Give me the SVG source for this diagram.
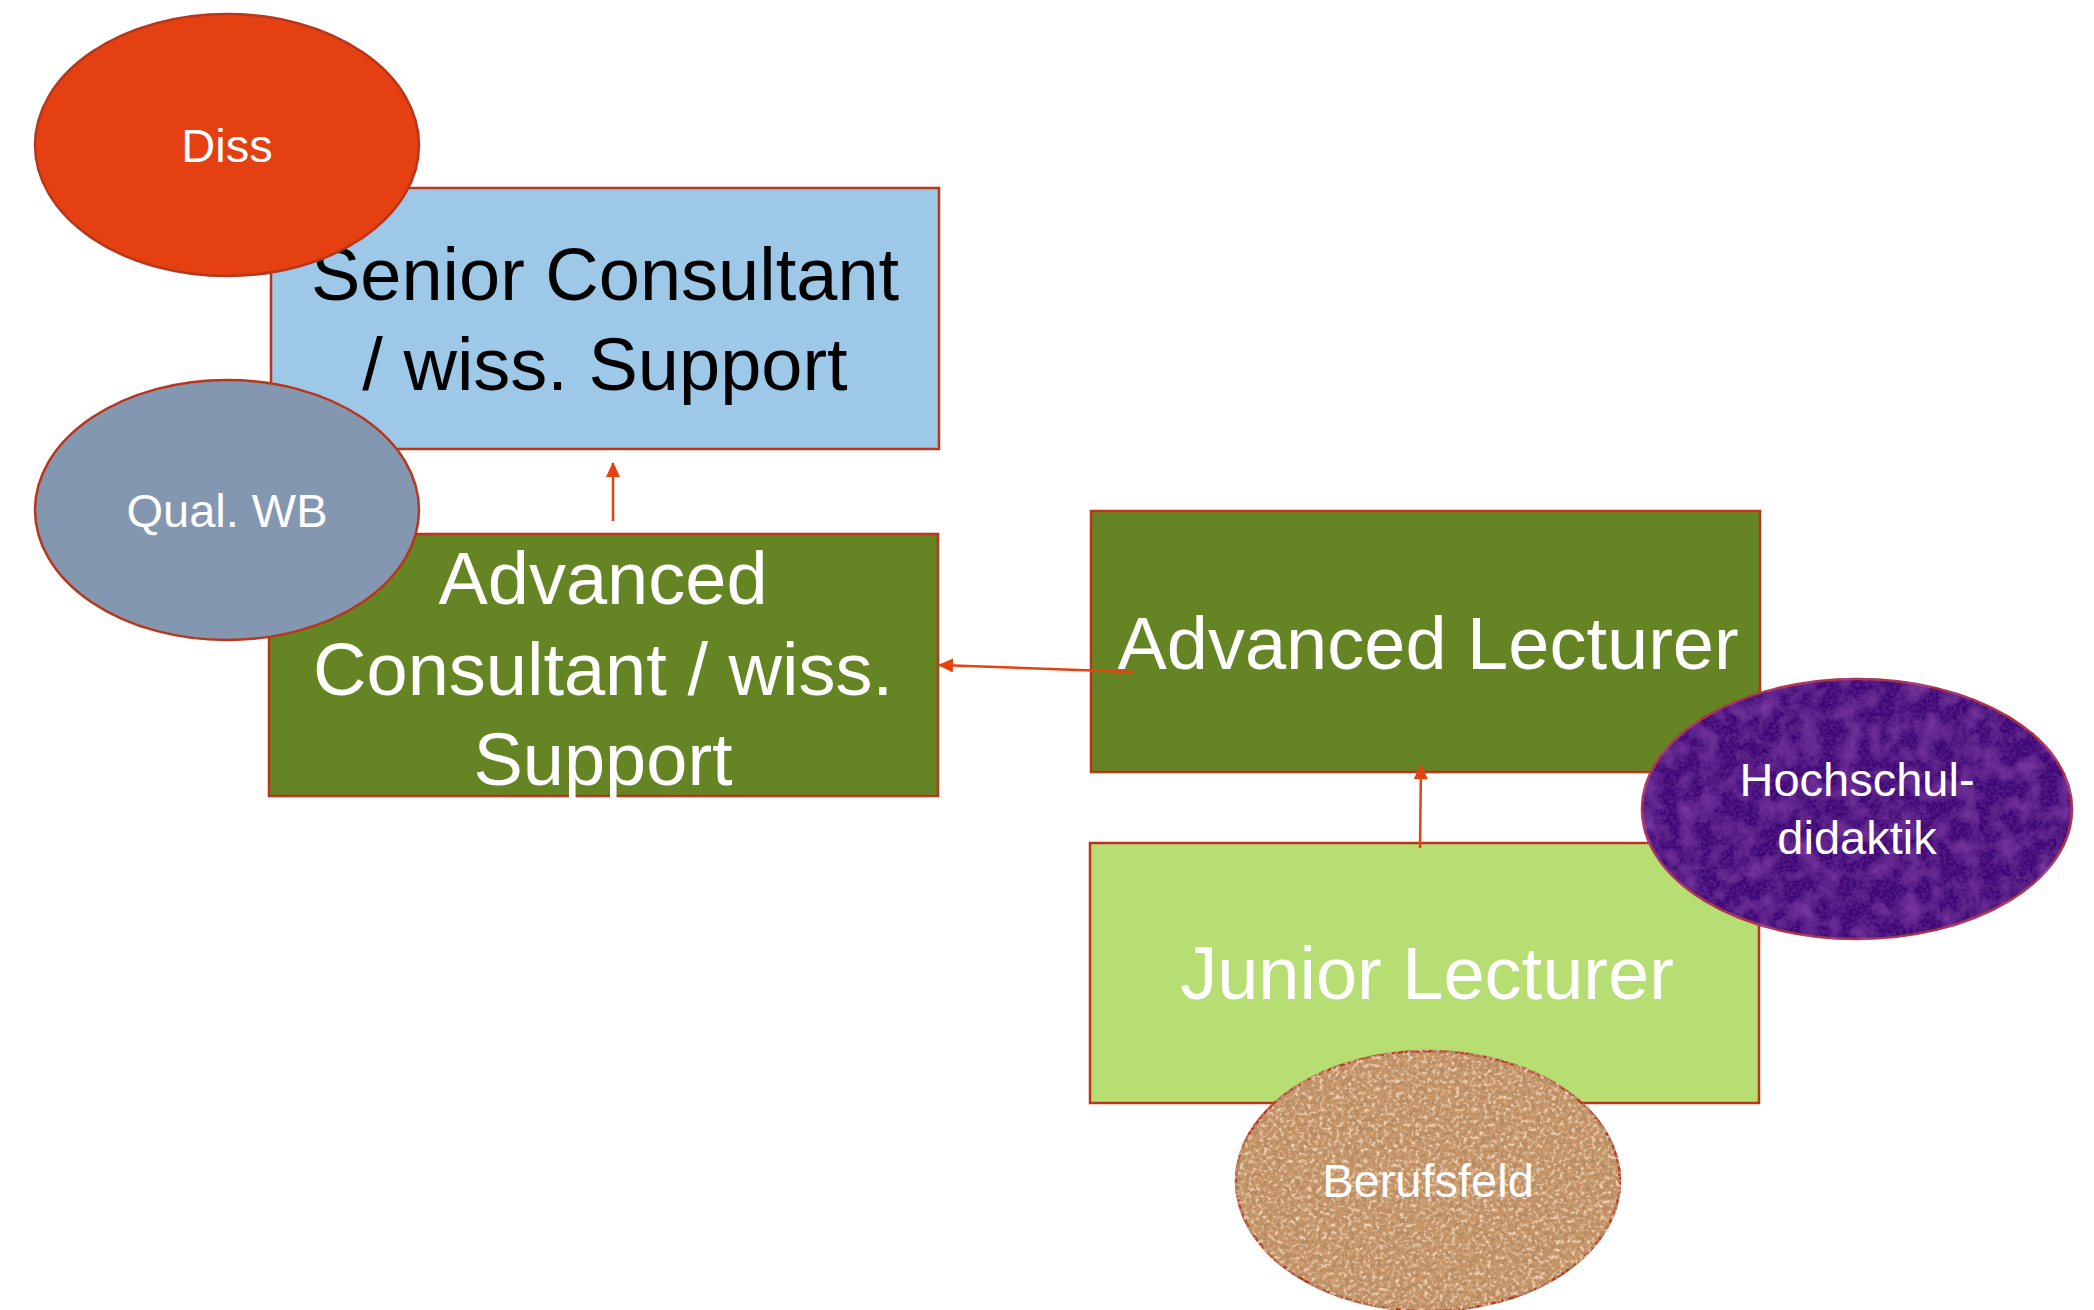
<svg xmlns="http://www.w3.org/2000/svg" width="2094" height="1310" viewBox="0 0 2094 1310">
<style>
.box{stroke:#B8361C;stroke-width:2.5}
.ell{stroke:#B8361C;stroke-width:2.5}
.t{font-family:"Liberation Sans",Arial,sans-serif;text-anchor:middle}
.big{font-size:74px}
.small{font-size:47px;fill:#ffffff}
.w{fill:#ffffff}
.k{fill:#000000}
.conn{stroke:#E5420F;stroke-width:2.5;fill:none}
</style>
<defs>
<marker id="ah" markerUnits="userSpaceOnUse" markerWidth="16" markerHeight="14" refX="14" refY="7" orient="auto">
<path d="M0,0 L15,7 L0,14 Z" fill="#E5420F"/>
</marker>
<filter id="purpleTex" x="-5%" y="-5%" width="110%" height="110%">
<feTurbulence type="fractalNoise" baseFrequency="0.05" numOctaves="4" seed="4" result="n1"/>
<feColorMatrix in="n1" type="matrix" values="0 0 0 0 0.36  0 0 0 0 0.08  0 0 0 0 0.55  1.0 0 0 0 -0.4" result="light"/>
<feTurbulence type="fractalNoise" baseFrequency="0.3" numOctaves="2" seed="9" result="n2"/>
<feColorMatrix in="n2" type="matrix" values="0 0 0 0 0.16  0 0 0 0 0.03  0 0 0 0 0.32  1.0 0 0 0 -0.35" result="dark"/>
<feMerge result="m"><feMergeNode in="light"/><feMergeNode in="dark"/></feMerge>
<feComposite in="m" in2="SourceAlpha" operator="in" result="tex"/>
<feMerge><feMergeNode in="SourceGraphic"/><feMergeNode in="tex"/></feMerge>
</filter>
<filter id="corkTex" x="-5%" y="-5%" width="110%" height="110%">
<feTurbulence type="fractalNoise" baseFrequency="0.22" numOctaves="3" seed="7" result="n1"/>
<feColorMatrix in="n1" type="matrix" values="0 0 0 0 0.45  0 0 0 0 0.26  0 0 0 0 0.13  4 0 0 0 -1.8" result="dark"/>
<feTurbulence type="fractalNoise" baseFrequency="0.25" numOctaves="3" seed="2" result="n2"/>
<feColorMatrix in="n2" type="matrix" values="0 0 0 0 0.9  0 0 0 0 0.7  0 0 0 0 0.5  3 0 0 0 -1.4" result="lite"/>
<feMerge result="m"><feMergeNode in="lite"/><feMergeNode in="dark"/></feMerge>
<feComposite in="m" in2="SourceAlpha" operator="in" result="tex"/>
<feMerge><feMergeNode in="SourceGraphic"/><feMergeNode in="tex"/></feMerge>
</filter>
</defs>
<rect width="2094" height="1310" fill="#ffffff"/>

<g id="senior-consultant">
<rect class="box" x="271" y="188" width="668" height="261" fill="#9DC8E8"/>
<text class="t big k" x="605" y="300">Senior Consultant</text>
<text class="t big k" x="605" y="390">/ wiss. Support</text>
</g>

<g id="advanced-consultant">
<rect class="box" x="269" y="534" width="669" height="262" fill="#658423"/>
<text class="t big w" x="603" y="604">Advanced</text>
<text class="t big w" x="603" y="695">Consultant / wiss.</text>
<text class="t big w" x="603" y="785">Support</text>
</g>

<g id="advanced-lecturer">
<rect class="box" x="1091" y="511" width="669" height="261" fill="#658423"/>
<text class="t big w" x="1428" y="669">Advanced Lecturer</text>
</g>

<g id="junior-lecturer">
<rect class="box" x="1090" y="843" width="669" height="260" fill="#B7DE72"/>
<text class="t big w" x="1427" y="999">Junior Lecturer</text>
</g>

<g id="connectors">
<line class="conn" x1="613" y1="521" x2="613" y2="463" marker-end="url(#ah)"/>
<line class="conn" x1="1134" y1="672" x2="939" y2="665" marker-end="url(#ah)"/>
<line class="conn" x1="1420" y1="848" x2="1421" y2="765" marker-end="url(#ah)"/>
</g>

<g id="diss">
<ellipse class="ell" cx="227" cy="145" rx="192" ry="131" fill="#E54012"/>
<text class="t small" x="227" y="162">Diss</text>
</g>

<g id="qual-wb">
<ellipse class="ell" cx="227" cy="510" rx="192" ry="130" fill="#8397B0"/>
<text class="t small" x="227" y="527">Qual. WB</text>
</g>

<g id="hochschuldidaktik">
<ellipse class="ell" cx="1857" cy="809" rx="215" ry="130" fill="#3C0E76" filter="url(#purpleTex)"/>
<text class="t small" x="1857" y="796">Hochschul-</text>
<text class="t small" x="1857" y="854">didaktik</text>
</g>

<g id="berufsfeld">
<ellipse class="ell" cx="1428" cy="1181" rx="192" ry="130" fill="#C99566" filter="url(#corkTex)"/>
<text class="t small" x="1428" y="1197">Berufsfeld</text>
</g>
</svg>
